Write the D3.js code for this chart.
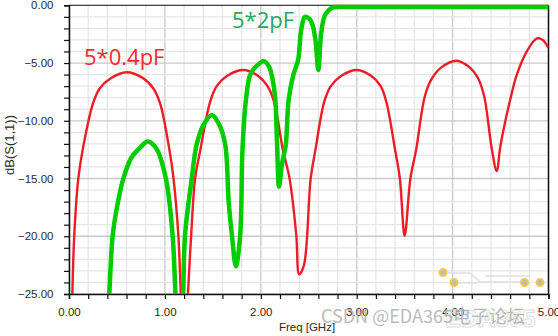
<!DOCTYPE html>
<html>
<head>
<meta charset="utf-8">
<script src="https://cdn.jsdelivr.net/npm/d3@7"></script>
<style>
  body { margin: 0; background: #fff; }
  svg { display: block; }
</style>
</head>
<body>
<div class="content"></div>
<script>
const SVG_W = 558;
const SVG_H = 336;

// 5*0.4pF trace (red)
const freqRed = [0.0, 0.035, 0.055, 0.097, 0.143, 0.25, 0.32, 0.44, 0.60, 0.77, 0.88, 0.95, 1.047, 1.09, 1.14, 1.166, 1.20,
  1.24, 1.274, 1.315, 1.37, 1.47, 1.54, 1.65, 1.82, 1.97, 2.07, 2.14, 2.23, 2.30, 2.37, 2.40,
  2.45, 2.52, 2.57, 2.66, 2.73, 2.84, 3.00, 3.15, 3.25, 3.31, 3.40, 3.45, 3.50,
  3.56, 3.62, 3.71, 3.78, 3.88, 4.04, 4.18, 4.27, 4.33, 4.41, 4.46,
  4.50, 4.60, 4.67, 4.78, 4.88, 4.94, 5.0];
const dbRed = [-40, -25, -19.9, -15, -12.5, -8.5, -7.2, -6.3, -5.8, -6.3, -7.2, -8.5, -12.5, -15, -19.9, -25, -32,
  -25, -19.9, -15, -12.5, -8.4, -7.0, -6.1, -5.6, -6.1, -7.0, -8.4, -12.5, -15, -19.9, -23.3,
  -22.5, -15, -12.5, -8.4, -7.0, -6.1, -5.6, -6.1, -7.0, -8.4, -12.5, -15, -19.95,
  -15, -12.5, -7.9, -6.4, -5.4, -4.8, -5.4, -6.4, -7.9, -12.5, -14.35,
  -12.1, -8.2, -6.0, -3.9, -2.87, -3.0, -3.7];

// 5*2pF trace (green)
const freqGreen = [0.38, 0.42, 0.456, 0.50, 0.567, 0.65, 0.745, 0.82, 0.91, 1.01, 1.08, 1.11, 1.15,
  1.19, 1.21, 1.28, 1.33, 1.40, 1.49, 1.57, 1.63, 1.665, 1.70, 1.74,
  1.785, 1.81, 1.85, 1.89, 1.95, 2.03, 2.085, 2.12, 2.15, 2.17, 2.19,
  2.22, 2.26, 2.29, 2.34, 2.39, 2.42, 2.46, 2.51, 2.54, 2.57, 2.60,
  2.63, 2.67, 2.74, 2.85, 3.2, 3.8, 4.4, 5.0];
const dbGreen = [-32, -25, -19.9, -17.5, -15, -13.2, -12.3, -11.8, -12.4, -15, -19.9, -25, -32,
  -25, -19.9, -15, -12.1, -10.4, -9.5, -10.4, -12.1, -17, -20, -22.6,
  -19.9, -12.3, -7.8, -6.0, -5.3, -4.85, -5.3, -6.3, -8.0, -12.1, -15.7,
  -13.8, -12.1, -8.2, -6.0, -4.7, -2.2, -1.0, -1.2, -1.7, -3.0, -5.6,
  -2.4, -0.84, -0.23, -0.15, -0.15, -0.15, -0.15, -0.15];

const xTicks = [0, 1, 2, 3, 4, 5];
const yTicks = [0, -5, -10, -15, -20, -25];

const seriesLabels = ["5*0.4pF", "5*2pF"];

const margin = {left: 69, right: 9.5, top: 5.3, bottom: 42};
const plotW = SVG_W - margin.left - margin.right;
const plotH = SVG_H - margin.top - margin.bottom;

const svg = d3.select(".content").append("svg").attr("width", SVG_W).attr("height", SVG_H);

const x = d3.scaleLinear().domain([0, 5]).range([margin.left, margin.left + plotW]);
const y = d3.scaleLinear().domain([-25, 0]).range([margin.top + plotH, margin.top]);

// grid
const grid = svg.append("g").attr("class", "grid");
grid.selectAll("line.vminor").data(d3.range(0, 26).map(i => i * 0.2))
  .join("line").attr("class", "vminor")
  .attr("x1", d => x(d)).attr("x2", d => x(d))
  .attr("y1", y(0)).attr("y2", y(-25))
  .attr("stroke", d => Math.abs(d - Math.round(d)) < 1e-6 ? "#c9c9c9" : "#e6e6e6")
  .attr("stroke-width", 1.3);
grid.selectAll("line.hminor").data(d3.range(0, 26).map(i => -i))
  .join("line").attr("class", "hminor")
  .attr("x1", x(0)).attr("x2", x(5))
  .attr("y1", d => y(d)).attr("y2", d => y(d))
  .attr("stroke", d => d % 5 === 0 ? "#c9c9c9" : "#e6e6e6")
  .attr("stroke-width", 1.3);

// top and right border
svg.append("line").attr("x1", x(0)).attr("x2", x(5)).attr("y1", y(0)).attr("y2", y(0))
  .attr("stroke", "#444").attr("stroke-width", 1.2);
svg.append("line").attr("x1", x(5)).attr("x2", x(5)).attr("y1", y(0)).attr("y2", y(-25))
  .attr("stroke", "#111").attr("stroke-width", 1.5);

// axes
const xAxis = d3.axisBottom(x).tickValues(d3.range(0, 26).map(i => i * 0.2)).tickSize(5)
  .tickFormat(d => xTicks.includes(Math.round(d * 10) / 10) ? d3.format(".2f")(d) : "");
const yAxis = d3.axisLeft(y).tickValues(d3.range(0, 26).map(i => -i)).tickSize(5)
  .tickFormat(d => yTicks.includes(d) ? d3.format(".2f")(d) : "");

const gx = svg.append("g").attr("transform", "translate(0," + y(-25) + ")").call(xAxis);
const gy = svg.append("g").attr("transform", "translate(" + x(0) + ",0)").call(yAxis);
[gx, gy].forEach(g => {
  g.select(".domain").attr("stroke", "#111").attr("stroke-width", 1.5);
  g.selectAll(".tick line").attr("stroke", "#111").attr("stroke-width", 1.2);
  g.selectAll("text").attr("fill", "#2a2a2a").style("font-family", "Liberation Sans, Arial, sans-serif")
    .style("font-size", "11.5px");
});
gx.selectAll("text").attr("dy", "0.71em").attr("y", 14);
gy.selectAll("text").attr("x", -15.5);

// axis titles
svg.append("text").text("Freq [GHz]")
  .attr("x", 307).attr("y", 331).attr("text-anchor", "middle")
  .style("font-family", "Liberation Sans, Arial, sans-serif").style("font-size", "11.5px").attr("fill", "#2a2a2a");
svg.append("text").text("dB(S(1,1))")
  .attr("transform", "translate(14,145) rotate(-90)").attr("text-anchor", "middle")
  .style("font-family", "Liberation Sans, Arial, sans-serif").style("font-size", "13px").attr("fill", "#2a2a2a");

// curves
svg.append("clipPath").attr("id", "plotclip").append("rect")
  .attr("x", x(0)).attr("y", y(0) - 4).attr("width", plotW).attr("height", plotH + 4);

const line = d3.line().x(d => x(d[0])).y(d => y(d[1])).curve(d3.curveCatmullRom.alpha(0.5));
const redData = freqRed.map((f, i) => [f, dbRed[i]]);
const greenData = freqGreen.map((f, i) => [f, dbGreen[i]]);

const curves = svg.append("g").attr("clip-path", "url(#plotclip)");
curves.append("path").attr("d", line(redData)).attr("fill", "none")
  .attr("stroke", "#ee1c25").attr("stroke-width", 2.4);
curves.append("path").attr("d", line(greenData)).attr("fill", "none")
  .attr("stroke", "#00cc00").attr("stroke-width", 4.5).attr("stroke-linejoin", "round");

// series labels
svg.append("text").text(seriesLabels[0]).attr("x", 84).attr("y", 65)
  .style("font-family", "Open Sans, sans-serif").style("font-size", "22px").attr("fill", "#ef2a30");
svg.append("text").text(seriesLabels[1]).attr("x", 232).attr("y", 28)
  .style("font-family", "Open Sans, sans-serif").style("font-size", "22px").attr("fill", "#2aa860");

// watermark
const wm = svg.append("g");
wm.append("text").text("EDA365").attr("x", 445).attr("y", 327)
  .style("font-family", "Liberation Sans, Arial, sans-serif").style("font-size", "24px").style("font-weight", "bold")
  .attr("fill", "none").attr("stroke", "#ddd").attr("stroke-width", 1);
[[443, 272.5], [454, 282.5], [524.5, 282.5], [540, 282.5]].forEach(p => {
  wm.append("circle").attr("cx", p[0]).attr("cy", p[1]).attr("r", 3.5)
    .attr("fill", "#bbb").attr("stroke", "#f6c94a").attr("stroke-width", 2);
});
wm.append("path").attr("d", "M447,273 L470,273 L480,282 L520,282 M458,283 L478,283 M485,276 L530,276")
  .attr("stroke", "#e0e0e0").attr("stroke-width", 1.5).attr("fill", "none");
wm.append("text").text("CSDN @EDA365电子论坛").attr("x", 321).attr("y", 323)
  .style("font-family", "Noto Sans CJK SC, Noto Sans, sans-serif").style("font-size", "18px")
  .attr("fill", "#a8a8a8").attr("fill-opacity", 0.8);
</script>
</body>
</html>
